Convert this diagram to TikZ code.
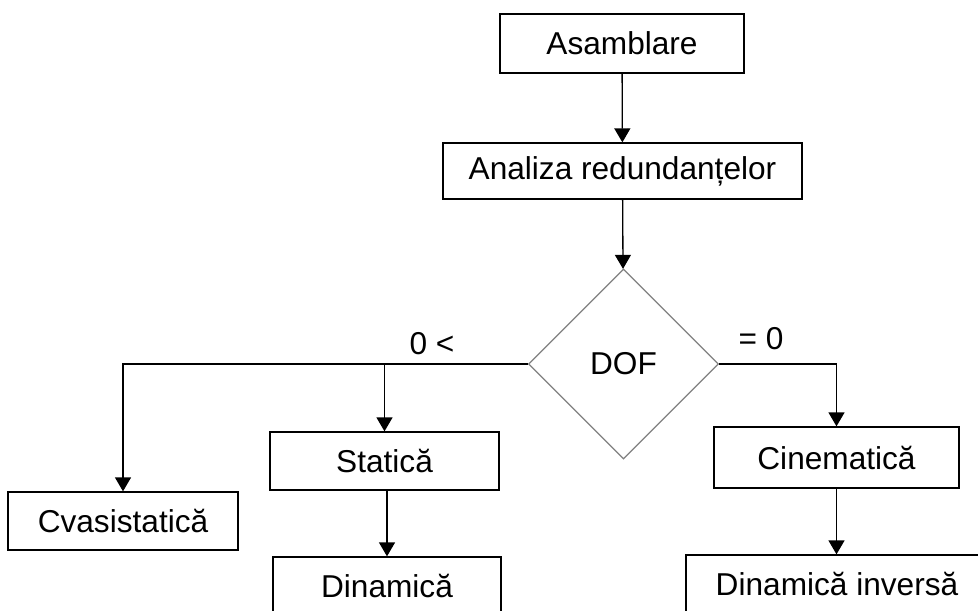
\documentclass[tikz,border=0pt]{standalone}
\usepackage{fontspec}
\setmainfont{Liberation Sans}
\usetikzlibrary{shapes.geometric,arrows.meta}

\begin{document}
\begin{tikzpicture}[x=0.02cm, y=-0.02cm,
        bloc/.style={draw, line width=0.75pt, inner sep=0pt, font=\fontsize{18}{21}\selectfont},
        dec/.style={diamond, aspect=1, draw=gray, line width=0.75pt, minimum size=3.8cm, inner sep=0pt, font=\fontsize{18}{21}\selectfont},
        eticheta/.style={font=\fontsize{18}{21}\selectfont, inner sep=0pt},
        sag/.style={-{Triangle[length=0.28cm, width=0.32cm]}, line width=0.75pt}]
        \useasboundingbox (0, 0) rectangle (978, 610);
        \node[bloc, minimum width=4.88cm, minimum height=1.18cm] (asm) at (622, 43.5) {Asamblare};
        \node[bloc, minimum width=7.18cm, minimum height=1.12cm] (ana) at (622.5, 171) {Analiza redundanțelor};
        \node[dec] (dof) at (623.5, 364) {DOF};
        \node[bloc, minimum width=4.6cm, minimum height=1.16cm] (cva) at (123, 521) {Cvasistatică};
        \node[bloc, minimum width=4.58cm, minimum height=1.16cm] (sta) at (384.5, 461) {Statică};
        \node[bloc, minimum width=4.56cm, minimum height=1.16cm] (din) at (387, 586) {Dinamică};
        \node[bloc, minimum width=4.9cm, minimum height=1.22cm] (cin) at (836.5, 457.5) {Cinematică};
        \node[bloc, minimum width=6.04cm, minimum height=1.16cm] (dinv) at (837, 584) {Dinamică inversă};
        \node[eticheta] (mic) at (432, 344) {0 <};
        \node[eticheta] (egal) at (761, 339) {= 0};
        \draw[sag] (asm) -- (ana);
        \draw[sag] (ana) -- (dof);
        \draw[sag] (dof.west) -| (cva.north);
        \draw[sag] (sta.north |- dof.west) -- (sta.north);
        \draw[sag] (din.north |- sta.south) -- (din.north);
        \draw[sag] (dof.east) -| (cin.north);
        \draw[sag] (cin.south) -- (cin.south |- dinv.north);
    \end{tikzpicture}
\end{document}
